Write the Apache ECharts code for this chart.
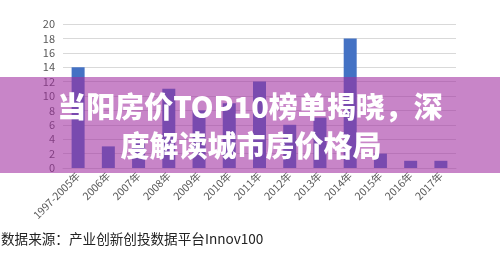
<!DOCTYPE html>
<html><head><meta charset="utf-8">
<script src="https://cdn.jsdelivr.net/npm/echarts@6/dist/echarts.min.js"></script>
<style>html,body{margin:0;padding:0;background:#fff}#c{width:500px;height:253px}</style>
</head><body><div id="c"></div>
<script>
var categories = ['1997-2005年','2006年','2007年','2008年','2009年','2010年','2011年','2012年','2013年','2014年','2015年','2016年','2017年'];
var values = [14, 3, 4, 11, 8, 9, 12, 6, 7, 18, 2, 1, 1];
var yTicks = {min: 0, max: 20, interval: 2};
var bannerLines = ['当阳房价TOP10榜单揭晓，深', '度解读城市房价格局'];
var sourceText = '数据来源：产业创新创投数据平台Innov100';

var chart = echarts.init(document.getElementById('c'), null, {renderer: 'canvas'});
var fontCJK = '"Noto Sans CJK SC","Noto Sans",sans-serif';
chart.setOption({
  animation: false,
  grid: {left: 63, right: 44, top: 24, bottom: 85},
  xAxis: {
    type: 'category', data: categories,
    axisLine: {show: true, lineStyle: {color: '#d9d9d9'}},
    axisTick: {show: false},
    axisLabel: {rotate: 45, interval: 0, color: '#595959', fontSize: 10.5, fontFamily: fontCJK, margin: 6}
  },
  yAxis: {
    type: 'value', min: yTicks.min, max: yTicks.max, interval: yTicks.interval,
    axisLine: {show: false}, axisTick: {show: false},
    splitLine: {lineStyle: {color: '#d9d9d9'}},
    axisLabel: {color: '#595959', fontSize: 11, fontFamily: fontCJK, margin: 8}
  },
  series: [{
    type: 'bar', data: values, barWidth: 13,
    itemStyle: {color: '#4472C4'}
  }],
  graphic: [
    {type: 'rect', z: 100, shape: {x: 0, y: 77, width: 500, height: 96},
     style: {fill: 'rgba(160,44,160,0.58)'}},
    {type: 'text', z: 101, x: 250, y: 107,
     style: {text: bannerLines[0], fill: '#fff', font: '900 29px ' + fontCJK, textAlign: 'center', textVerticalAlign: 'middle',
       shadowColor: 'rgba(0,0,0,0.25)', shadowBlur: 2, shadowOffsetX: 1, shadowOffsetY: 1}},
    {type: 'text', z: 101, x: 251, y: 146,
     style: {text: bannerLines[1], fill: '#fff', font: '900 29px ' + fontCJK, textAlign: 'center', textVerticalAlign: 'middle',
       shadowColor: 'rgba(0,0,0,0.25)', shadowBlur: 2, shadowOffsetX: 1, shadowOffsetY: 1}},
    {type: 'text', z: 101, x: 1, y: 239,
     style: {text: sourceText, fill: '#222', font: '13.6px ' + fontCJK, textAlign: 'left', textVerticalAlign: 'middle'}}
  ]
});
</script></body></html>
